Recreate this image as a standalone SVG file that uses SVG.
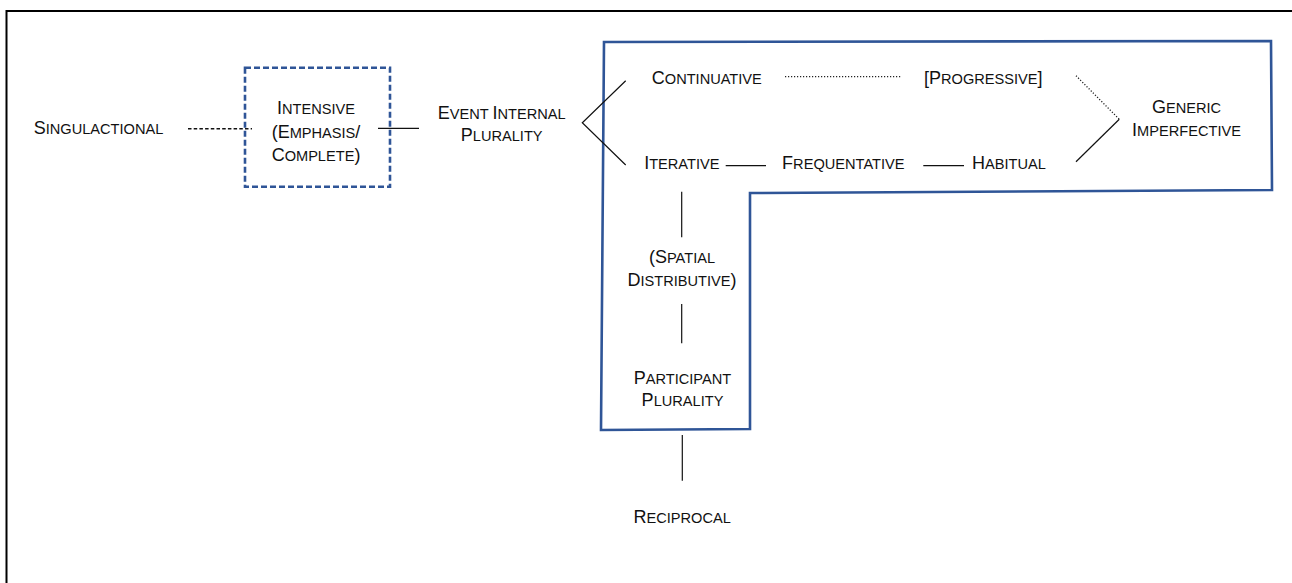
<svg xmlns="http://www.w3.org/2000/svg" width="1292" height="583" viewBox="0 0 1292 583">
<style>
text{font-family:"Liberation Sans",Arial,sans-serif;font-size:18px;fill:#111;text-anchor:middle}
.s{font-size:14.6px}
.c{stroke:#111;stroke-width:1.2;fill:none}
.dash{stroke:#111;stroke-width:1.6;stroke-dasharray:3.5 2.2;fill:none}
.dot{stroke:#222;stroke-width:1.3;stroke-dasharray:1.2 1.8;fill:none}
.blue{stroke:#2f5597;stroke-width:2.6;fill:none}
</style>
<rect width="1292" height="583" fill="#fff"/>
<path d="M6.5 583 V11 H1292" stroke="#000" stroke-width="2" fill="none"/>
<g id="region">
<path class="blue" d="M604 42 L1271 41 L1272 190 L750 193 L750 429 L601 430 Z"/>
</g>
<g id="connectors">
<line class="dash" x1="188" y1="128.7" x2="252" y2="128.7"/>
<line class="c" x1="378" y1="128.3" x2="419" y2="128.3"/>
<polyline class="c" points="625.7,80.7 582.3,122.7 625.7,165"/>
<line class="dot" x1="785" y1="76.7" x2="902" y2="76.7"/>
<line class="c" x1="725.7" y1="165.7" x2="766" y2="165.7"/>
<line class="c" x1="923.3" y1="165.7" x2="964" y2="165.7"/>
<line class="dot" x1="1076" y1="75.7" x2="1119.3" y2="119.3"/>
<line class="c" x1="1119.3" y1="119.3" x2="1076" y2="161.7"/>
<line class="c" x1="681.7" y1="191.7" x2="681.7" y2="237.3"/>
<line class="c" x1="681.7" y1="304" x2="681.7" y2="343.3"/>
<line class="c" x1="682.3" y1="435" x2="682.3" y2="480.7"/>
</g>
<g id="singulactional"><text x="98.5" y="133.5">S<tspan class="s">INGULACTIONAL</tspan></text></g>
<g id="intensive">
<rect class="blue" x="245" y="67.7" width="145" height="119" stroke-dasharray="6 3"/>
<text x="316" y="114.3">I<tspan class="s">NTENSIVE</tspan></text>
<text x="316" y="137.8">(E<tspan class="s">MPHASIS</tspan>/</text>
<text x="316" y="161">C<tspan class="s">OMPLETE</tspan>)</text>
</g>
<g id="event-internal">
<text x="501.7" y="119">E<tspan class="s">VENT </tspan>I<tspan class="s">NTERNAL</tspan></text>
<text x="501.7" y="141">P<tspan class="s">LURALITY</tspan></text>
</g>
<g id="continuative"><text x="706.8" y="84.3">C<tspan class="s">ONTINUATIVE</tspan></text></g>
<g id="progressive"><text x="983.3" y="84.3">[P<tspan class="s">ROGRESSIVE</tspan>]</text></g>
<g id="generic-imperfective">
<text x="1186.5" y="113.3">G<tspan class="s">ENERIC</tspan></text>
<text x="1186.5" y="136">I<tspan class="s">MPERFECTIVE</tspan></text>
</g>
<g id="iterative"><text x="681.8" y="169.3">I<tspan class="s">TERATIVE</tspan></text></g>
<g id="frequentative"><text x="843.3" y="169.3">F<tspan class="s">REQUENTATIVE</tspan></text></g>
<g id="habitual"><text x="1009" y="169.3">H<tspan class="s">ABITUAL</tspan></text></g>
<g id="spatial-distributive">
<text x="682" y="262.7">(S<tspan class="s">PATIAL</tspan></text>
<text x="682" y="286">D<tspan class="s">ISTRIBUTIVE</tspan>)</text>
</g>
<g id="participant-plurality">
<text x="682.5" y="384">P<tspan class="s">ARTICIPANT</tspan></text>
<text x="682.5" y="406">P<tspan class="s">LURALITY</tspan></text>
</g>
<g id="reciprocal"><text x="682.2" y="522.7">R<tspan class="s">ECIPROCAL</tspan></text></g>
</svg>
